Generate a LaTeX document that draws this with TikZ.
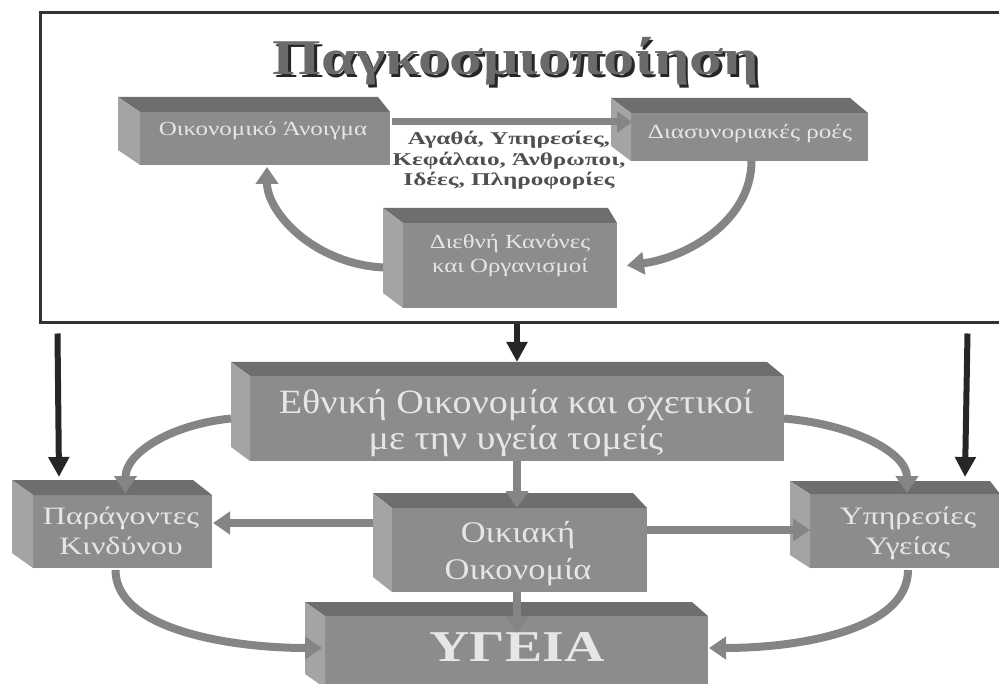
\documentclass[tikz,border=0pt]{standalone}
\usepackage{fontspec}
\setmainfont{Liberation Serif}
\usetikzlibrary{arrows.meta,calc}
\definecolor{cfront}{HTML}{8C8C8C}
\definecolor{ctop}{HTML}{6E6E6E}
\definecolor{cside}{HTML}{A4A4A4}
\definecolor{ctext}{HTML}{E6E6E6}
\definecolor{carrow}{HTML}{858585}
\definecolor{cblack}{HTML}{262626}
\definecolor{cframe}{HTML}{333333}
\definecolor{ctitle}{HTML}{6A6A6A}
\definecolor{clabel}{HTML}{505050}
\tikzset{
  front/.style={fill=cfront, draw=none, inner sep=0pt, outer sep=0pt},
  boxtext/.style={text=ctext, align=center, inner sep=0pt},
  garrow/.style={draw=carrow, line width=8pt, -{Triangle[width=22pt,length=17pt]}},
  barrow/.style={draw=cblack, line width=6pt, -{Triangle[width=20pt,length=20pt]}},
}
\newcommand{\cubefaces}[4]{%
  \fill[ctop] (#1.north west) -- ($(#1.north west)+(#2,#4)$) -- ($(#1.north east)+(#3,#4)$) -- (#1.north east) -- cycle;
  \fill[cside] (#1.north west) -- ($(#1.north west)+(#2,#4)$) -- ($(#1.south west)+(#2,#4)$) -- (#1.south west) -- cycle;
}
\newcommand{\sx}[2]{\scalebox{#1}[1]{\begin{tabular}{@{}c@{}}#2\end{tabular}}}
\newcommand{\titletext}{\scalebox{1.25}[1]{Παγκοσμιοποίηση}}
\begin{document}
\begin{tikzpicture}[x=1pt,y=-1pt]
\useasboundingbox (0,0) rectangle (999,684);
\fill[white] (0,0) rectangle (999,684);
% frame
\node[draw=cframe, line width=3pt, inner sep=0pt, minimum width=962pt, minimum height=310pt] (glob) at (521,168) {};
% title
\node[anchor=base, inner sep=0pt, font=\fontsize{50}{50}\selectfont\bfseries] (title) at (516,75)
  {\rlap{\hspace{2.5pt}\raisebox{-2.5pt}{\textcolor{black!85}{\titletext}}}\textcolor{ctitle}{\titletext}};
% boxes (front faces)
\node[front, minimum width=250pt, minimum height=53pt] (tl) at (265,138.5) {};
\node[front, minimum width=237pt, minimum height=48pt] (tr) at (749.5,137) {};
\node[front, minimum width=214pt, minimum height=85pt] (mid) at (510,265.5) {};
\node[front, minimum width=534pt, minimum height=85pt] (nat) at (517,418.5) {};
\node[front, minimum width=179pt, minimum height=73pt] (pk) at (122.5,531.5) {};
\node[front, minimum width=190pt, minimum height=74pt] (ys) at (905,531) {};
\node[front, minimum width=255pt, minimum height=84pt] (oik) at (519.5,550) {};
\node[front, minimum width=383pt, minimum height=72pt] (yg) at (516.5,652) {};
\cubefaces{tl}{-22}{-12}{-15}
\cubefaces{tr}{-20}{-18}{-15}
\cubefaces{mid}{-20}{-9}{-15}
\cubefaces{nat}{-19}{-17}{-14}
\cubefaces{pk}{-21}{-19}{-15}
\cubefaces{ys}{-20}{-10}{-13}
\cubefaces{oik}{-19}{-14}{-15}
\cubefaces{yg}{-20}{-16}{-14}
% texts
\node[boxtext, font=\fontsize{20}{20}\selectfont] (tlT) at (263,131) {\sx{1.25}{Οικονομικό Άνοιγμα}};
\node[boxtext, font=\fontsize{20}{20}\selectfont] (trT) at (750,134) {\sx{1.26}{Διασυνοριακές ροές}};
\node[boxtext, font=\fontsize{20}{24}\selectfont] (midT) at (510,256) {\sx{1.24}{Διεθνή Κανόνες\\και Οργανισμοί}};
\node[boxtext, font=\fontsize{34}{36}\selectfont] (natT) at (516,424) {\sx{1.12}{Εθνική Οικονομία και σχετικοί\\με την υγεία τομείς}};
\node[boxtext, font=\fontsize{25}{30}\selectfont] (pkT) at (121,533) {\sx{1.28}{Παράγοντες\\Κινδύνου}};
\node[boxtext, font=\fontsize{25}{30}\selectfont] (ysT) at (908,533) {\sx{1.27}{Υπηρεσίες\\Υγείας}};
\node[boxtext, font=\fontsize{30}{37}\selectfont] (oikT) at (518,554) {\sx{1.15}{Οικιακή\\Οικονομία}};
\node[boxtext, font=\fontsize{44}{44}\selectfont\bfseries] (ygT) at (517,653) {\sx{1.27}{ΥΓΕΙΑ}};
\node[text=clabel, align=center, inner sep=0pt, font=\fontsize{18}{20.5}\selectfont\bfseries] (flows) at (509,161) {\sx{1.4}{Αγαθά, Υπηρεσίες,\\Κεφάλαιο, Άνθρωποι,\\Ιδέες, Πληροφορίες}};
% arrows: top section
\draw[draw=carrow, line width=7pt, -{Triangle[width=21pt,length=15pt]}] ($(tl.north east)+(2,10)$) -- ($(tr.north west)+(1,9)$);
\draw[garrow] ($(tr.south)+(2,0)$) .. controls +(0,60) and +(60,-8) .. ($(mid.east)+(10,0)$);
\draw[garrow] ($(mid.west)+(-20,2)$) .. controls +(-70,-4) and +(0,45) .. ($(tl.south)+(2,2)$);
% black arrows
\draw[barrow] ($(glob.south west)+(19,9)$) -- ($(pk.north west)+(26,-18)$);
\draw[barrow] ($(glob.south)+(-4,0)$) -- ($(nat.north)+(0,-14)$);
\draw[barrow] ($(glob.south east)+(-36,9)$) -- ($(ys.north west)+(155,-17)$);
% arrows: bottom section
\draw[garrow] (nat.south) -- (oik.north -| nat.south);
\draw[garrow] ($(nat.west)+(-19,0)$) .. controls +(-60,6) and +(0,-40) .. ($(pk.north)+(3,-2)$);
\draw[garrow] (nat.east) .. controls +(70,6) and +(0,-40) .. ($(ys.north)+(2,-1)$);
\draw[garrow] ($(oik.west)+(-19,-27)$) -- ($(pk.east)+(1,-8.5)$);
\draw[garrow] ($(oik.east)+(0,-20)$) -- ($(ys.west)+(0,-1)$);
\draw[garrow] (oik.south -| nat.south) -- ($(yg.north)+(0.5,17)$);
\draw[garrow] ($(pk.south)+(-7,2)$) .. controls +(0,60) and +(-90,0) .. ($(yg.west)+(-3,-4)$);
\draw[garrow] ($(ys.south)+(3,2)$) .. controls +(0,60) and +(90,0) .. ($(yg.east)+(1,-4)$);
\end{tikzpicture}
\end{document}
